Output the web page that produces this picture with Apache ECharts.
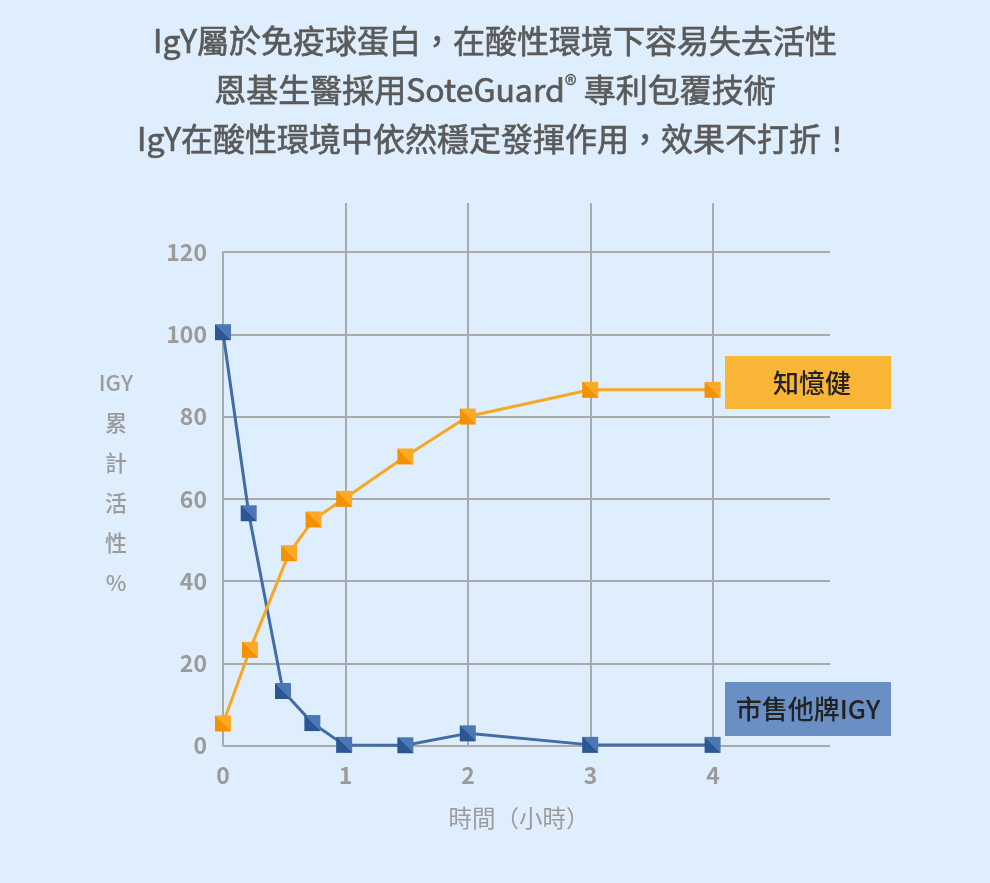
<!DOCTYPE html>
<html>
<head>
<meta charset="utf-8">
<script src="https://cdn.jsdelivr.net/npm/echarts@6/dist/echarts.min.js"></script>
<style>
  html, body { margin: 0; padding: 0; background: #dfeefc; }
  #chart { width: 990px; height: 883px; }
</style>
</head>
<body>
<div id="chart"></div>
<script>
// data
var hours = [0, 1, 2, 3, 4]
var otherX = [0, 0.21, 0.49, 0.73, 0.99, 1.49, 2, 3, 4]
var otherY = [100.5, 56.5, 13.3, 5.5, 0.2, 0.1, 3.0, 0.2, 0.2]
var ourX = [0, 0.22, 0.54, 0.74, 0.99, 1.49, 2, 3, 4]
var ourY = [5.4, 23.3, 46.8, 55.0, 60.0, 70.3, 80.0, 86.5, 86.5]
var titleLines = [
    'IgY屬於免疫球蛋白，在酸性環境下容易失去活性',
    '恩基生醫採用SoteGuard{sup|®} 專利包覆技術',
    'IgY在酸性環境中依然穩定發揮作用，效果不打折！'
]
var yNameChars = ['IGY', '累', '計', '活', '性', '%']

var font = '"Noto Sans CJK TC", "Noto Sans", sans-serif'
var gridColor = '#aaaaaa'
var labelColor = '#9b9b9b'
var titleColor = '#5a5a5a'

function pairs(xs, ys) {
    return xs.map(function (x, i) { return [x, ys[i]] })
}
// two tone square, split along the diagonal
function twoTone(dark, light) {
    return new echarts.graphic.LinearGradient(0, 1, 1, 0, [
        { offset: 0, color: dark },
        { offset: 0.5, color: dark },
        { offset: 0.5, color: light },
        { offset: 1, color: light }
    ])
}

var myChart = echarts.init(document.getElementById('chart'), null, { renderer: 'canvas' })

myChart.setOption({
    backgroundColor: '#dfeefc',
    animation: false,
    textStyle: { fontFamily: font },
    title: titleLines.map(function (t, i) {
        return {
            text: t,
            left: 'center',
            top: 16 + i * 49,
            textStyle: {
                fontFamily: font,
                fontSize: 32,
                fontWeight: 'normal',
                color: titleColor,
                textBorderColor: titleColor,
                textBorderWidth: 0.7,
                lineHeight: 40,
                rich: {
                    sup: {
                        fontSize: 25, fontWeight: 'normal', color: titleColor,
                        textBorderColor: titleColor, textBorderWidth: 0.3,
                        padding: [0, 0, 12, 0]
                    }
                }
            }
        }
    }),
    grid: [
        // vertical grid lines + hour labels
        { left: 223, top: 203, width: 490, height: 542.7 },
        // series + horizontal grid lines
        { left: 223, top: 252, width: 607, height: 493.7 }
    ],
    xAxis: [
        {
            gridIndex: 0,
            type: 'value',
            min: 0,
            max: 4,
            interval: 1,
            axisLine: { show: false },
            axisTick: { show: false },
            axisLabel: {
                margin: 18,
                fontSize: 23,
                fontWeight: 600,
                color: labelColor,
                fontFamily: font,
                formatter: function (v) { return hours.indexOf(v) >= 0 ? String(v) : '' }
            },
            splitLine: {
                show: true,
                lineStyle: { width: 2, color: ['transparent', gridColor, gridColor, gridColor, gridColor] }
            }
        },
        {
            gridIndex: 1,
            type: 'value',
            min: 0,
            max: 607 / 122.4,
            axisLine: { show: false },
            axisTick: { show: false },
            axisLabel: { show: false },
            splitLine: { show: false }
        }
    ],
    yAxis: [
        {
            gridIndex: 0,
            type: 'value',
            min: 0,
            max: 1,
            show: false
        },
        {
            gridIndex: 1,
            type: 'value',
            min: 0,
            max: 120,
            interval: 20,
            axisLine: { show: true, lineStyle: { width: 2, color: gridColor } },
            axisTick: { show: false },
            axisLabel: {
                margin: 16,
                fontSize: 23,
                fontWeight: 600,
                color: labelColor,
                fontFamily: font,
                lineHeight: 30,
                padding: [8, 0, 0, 0]
            },
            splitLine: { show: true, lineStyle: { width: 2, color: gridColor } }
        }
    ],
    series: [
        {
            name: '市售他牌IGY',
            type: 'line',
            xAxisIndex: 1,
            yAxisIndex: 1,
            data: pairs(otherX, otherY),
            symbol: 'rect',
            symbolSize: 16,
            lineStyle: { width: 3, color: '#416ca8' },
            itemStyle: { color: twoTone('#2a5792', '#4b77b4') },
            z: 3
        },
        {
            name: '知憶健',
            type: 'line',
            xAxisIndex: 1,
            yAxisIndex: 1,
            data: pairs(ourX, ourY),
            symbol: 'rect',
            symbolSize: 16,
            lineStyle: { width: 3, color: '#f6a823' },
            itemStyle: { color: twoTone('#f59000', '#fcaa25') },
            z: 4
        }
    ],
    graphic: [
        {
            type: 'text',
            x: 116,
            y: 363,
            style: {
                text: yNameChars.join('\n'),
                fontFamily: font,
                fontSize: 22,
                fontWeight: 500,
                lineHeight: 40,
                fill: labelColor,
                align: 'center'
            }
        },
        {
            type: 'text',
            x: 519,
            y: 818,
            style: {
                text: '時間（小時）',
                fontFamily: font,
                fontSize: 23.5,
                fill: labelColor,
                align: 'center',
                verticalAlign: 'middle'
            }
        },
        {
            type: 'group',
            x: 725,
            y: 356,
            children: [
                { type: 'rect', shape: { x: 0, y: 0, width: 166, height: 53 }, style: { fill: '#f9b536' } },
                {
                    type: 'text', x: 87, y: 27,
                    style: { text: '知憶健', fontFamily: font, fontSize: 26, fontWeight: 500, fill: '#222', align: 'center', verticalAlign: 'middle' }
                }
            ]
        },
        {
            type: 'group',
            x: 725,
            y: 682,
            children: [
                { type: 'rect', shape: { x: 0, y: 0, width: 166, height: 54 }, style: { fill: '#6a8fc5' } },
                {
                    type: 'text', x: 83, y: 27,
                    style: { text: '市售他牌IGY', fontFamily: font, fontSize: 26, fontWeight: 500, fill: '#222', align: 'center', verticalAlign: 'middle' }
                }
            ]
        }
    ]
})
window.onresize = myChart.resize
</script>
</body>
</html>
